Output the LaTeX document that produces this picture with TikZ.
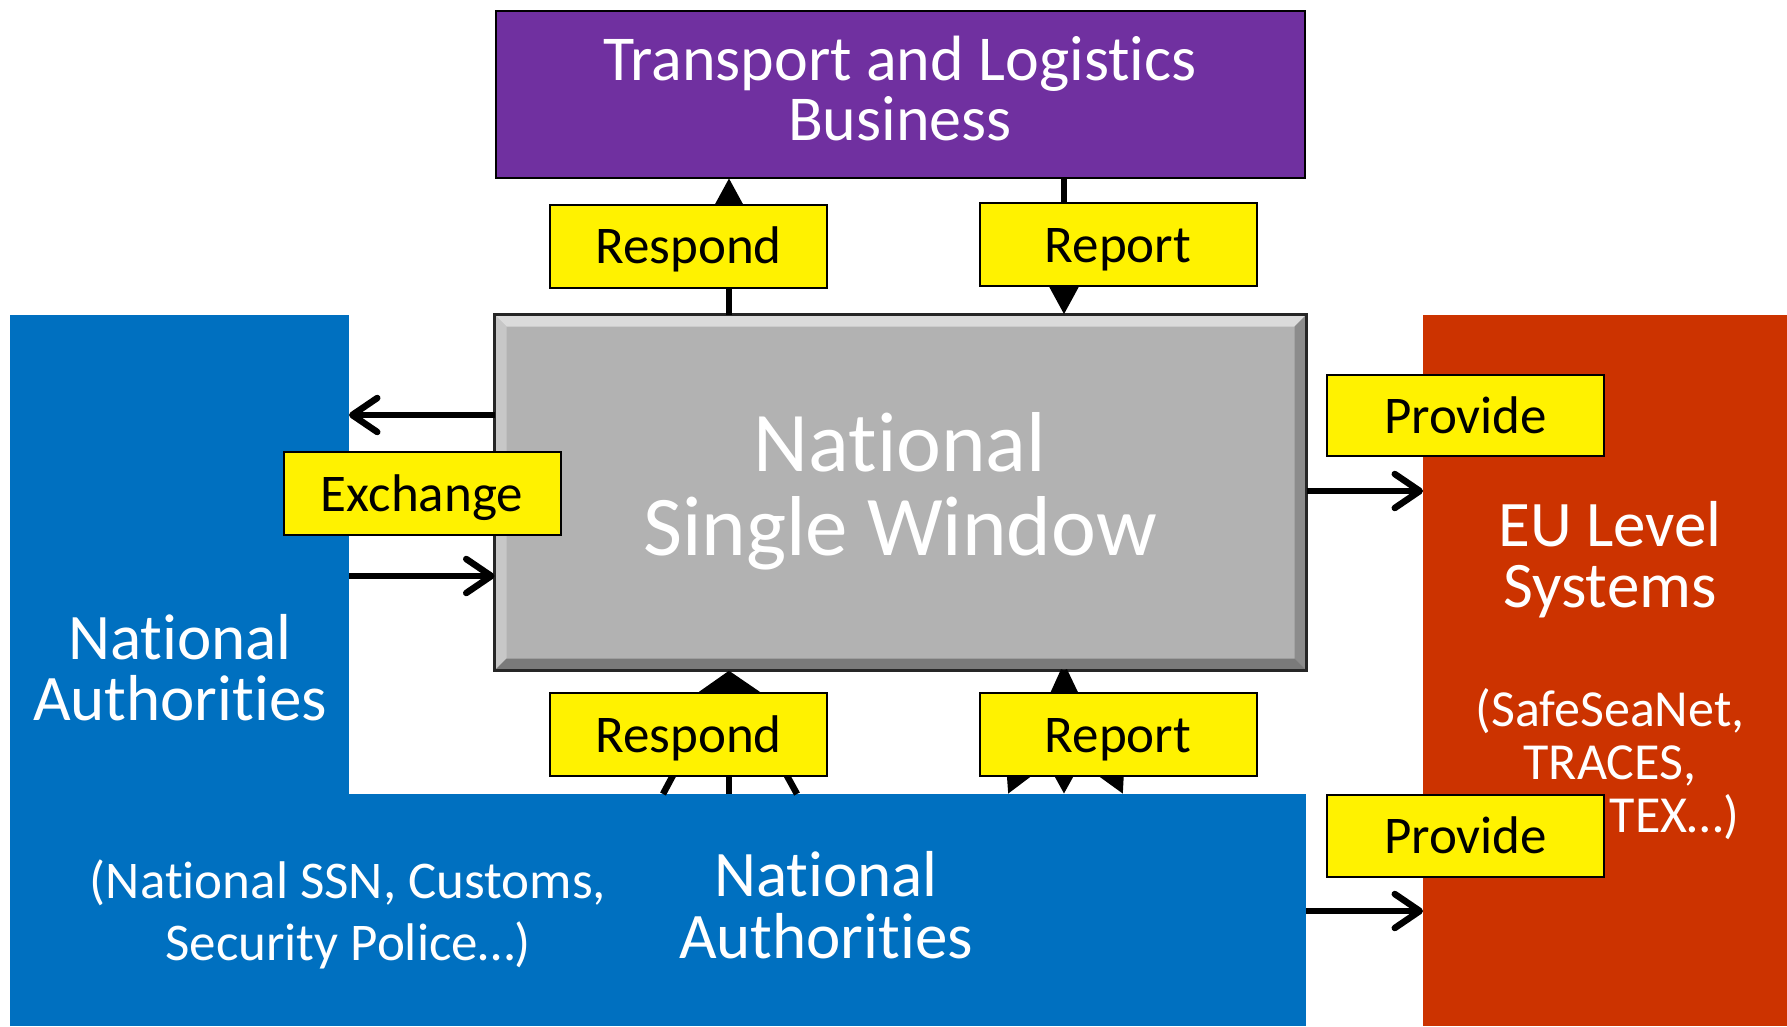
\documentclass[tikz,border=0pt]{standalone}
\usepackage{fontspec}
\setmainfont{Carlito}[Ligatures=NoCommon]
\usetikzlibrary{arrows.meta,calc}
\definecolor{tlbpurple}{HTML}{7030A0}
\definecolor{nablue}{HTML}{0070C0}
\definecolor{eured}{HTML}{CC3300}
\definecolor{nswgray}{HTML}{B2B2B2}
\begin{document}
\begin{tikzpicture}[x=1pt,y=-1pt,
  box/.style={rectangle, inner sep=0pt, outer sep=0pt},
  lbl/.style={rectangle, draw=black, line width=2pt, fill=yellow, inner sep=0pt, outer sep=0pt,
    minimum width=277pt, minimum height=83pt, text height=39pt, text depth=4pt,
    font=\fontsize{53}{60}\selectfont},
  bigtxt/.style={anchor=base, inner sep=0pt, text width=700pt, align=flush center, text=white},
  conn/.style={line width=6.5pt, draw=black},
  tri/.style={conn, -{Triangle[length=28pt,width=28pt]}},
  widetri/.style={conn, -{Triangle[length=34pt,width=32pt]}},
  dtri/.style={conn, {Triangle[length=26pt,width=26pt]}-{Triangle[length=26pt,width=26pt]}},
  chev/.style={conn, -{Straight Barb[length=25pt,width=34pt,round]}},
]
\useasboundingbox (0,0) rectangle (1787,1026);
\fill[white] (0,0) rectangle (1787,1026);

% boxes
\node[box, fill=nablue, minimum width=339pt, minimum height=711pt] (naleft) at (179.5,670.5) {};
\node[box, fill=nablue, minimum width=1296pt, minimum height=232pt] (nabar) at (658,910) {};
\node[box, fill=eured, minimum width=364pt, minimum height=711pt] (eu) at (1605,670.5) {};
\node[box, fill=tlbpurple, draw=black, line width=2pt, minimum width=809pt, minimum height=167pt] (tlb) at (900.5,94.5) {};
\node[box, fill=nswgray, minimum width=812pt, minimum height=356pt] (nsw) at (900.5,492.5) {};
% bevel of the NSW box
\fill[color=black!14] (nsw.north west) -- (nsw.north east) -- ($(nsw.north east)+(-12,12)$) -- ($(nsw.north west)+(12,12)$) -- cycle;
\fill[color=black!22] (nsw.north west) -- ($(nsw.north west)+(12,12)$) -- ($(nsw.south west)+(12,-12)$) -- (nsw.south west) -- cycle;
\fill[color=black!45] (nsw.north east) -- ($(nsw.north east)+(-12,12)$) -- ($(nsw.south east)+(-12,-12)$) -- (nsw.south east) -- cycle;
\fill[color=black!52] (nsw.south west) -- ($(nsw.south west)+(12,-12)$) -- ($(nsw.south east)+(-12,-12)$) -- (nsw.south east) -- cycle;
\draw[line width=3pt, black!85] (nsw.north west) rectangle (nsw.south east);

% texts in boxes
\node[bigtxt, font=\fontsize{64}{60}\selectfont] (tlbtxt) at (900,80) {Transport and Logistics\\Business};
\node[bigtxt, font=\fontsize{85}{84}\selectfont] (nswtxt) at (900,471) {National\\Single Window};
\node[bigtxt, font=\fontsize{65}{61}\selectfont] (naltxt) at (180,659) {National\\Authorities};
\node[bigtxt, font=\fontsize{65}{62}\selectfont] (nabtxt) at (826,896) {National\\Authorities};
\node[bigtxt, font=\fontsize{53}{62}\selectfont] (nabsub) at (348,898) {(National SSN, Customs,\\Security Police…)};
\node[bigtxt, font=\fontsize{65}{61}\selectfont] (eutxt) at (1610,546) {EU Level\\Systems};
\node[bigtxt, font=\fontsize{52}{53}\selectfont] (eusub) at (1610,726) {(SafeSeaNet,\\TRACES,\\\hspace*{129pt}TEX…)};

% connector positions
\coordinate (xa) at (729,0);
\coordinate (xa1) at (663,0);
\coordinate (xa3) at (797,0);
\coordinate (xb) at (1064,0);
\coordinate (xb1) at (1008,0);
\coordinate (xb3) at (1123,0);
\coordinate (ya) at (0,415);
\coordinate (yb) at (0,576);
\coordinate (yc) at (0,491);
\coordinate (yd) at (0,911);

% connectors
\draw[tri] (nsw.north -| xa) -- (tlb.south -| xa);
\draw[tri] (tlb.south -| xb) -- (nsw.north -| xb);
\draw[widetri] (nabar.north -| xa1) -- (nsw.south -| xa);
\draw[widetri] (nabar.north -| xa) -- (nsw.south -| xa);
\draw[widetri] (nabar.north -| xa3) -- (nsw.south -| xa);
\draw[tri] (nsw.south -| xb) -- (nabar.north -| xb1);
\draw[dtri] (nsw.south -| xb) -- (nabar.north -| xb);
\draw[tri] (nsw.south -| xb) -- (nabar.north -| xb3);
\draw[chev] (nsw.west |- ya) -- (naleft.east |- ya);
\draw[chev] (naleft.east |- yb) -- (nsw.west |- yb);
\draw[chev] (nsw.east |- yc) -- (eu.west |- yc);
\draw[chev] (nabar.east |- yd) -- (eu.west |- yd);

% labels
\node[lbl] (resp1) at (688.5,246) {Respond};
\node[lbl] (rep1) at (1118,244.5) {Report};
\node[lbl] (resp2) at (688.5,734.5) {Respond};
\node[lbl] (rep2) at (1118,734.5) {Report};
\node[lbl] (exch) at (422,493.5) {Exchange};
\node[lbl, minimum height=81pt] (prov1) at (1465.5,415.5) {Provide};
\node[lbl, minimum height=82pt] (prov2) at (1465.5,836) {Provide};
\end{tikzpicture}
\end{document}
